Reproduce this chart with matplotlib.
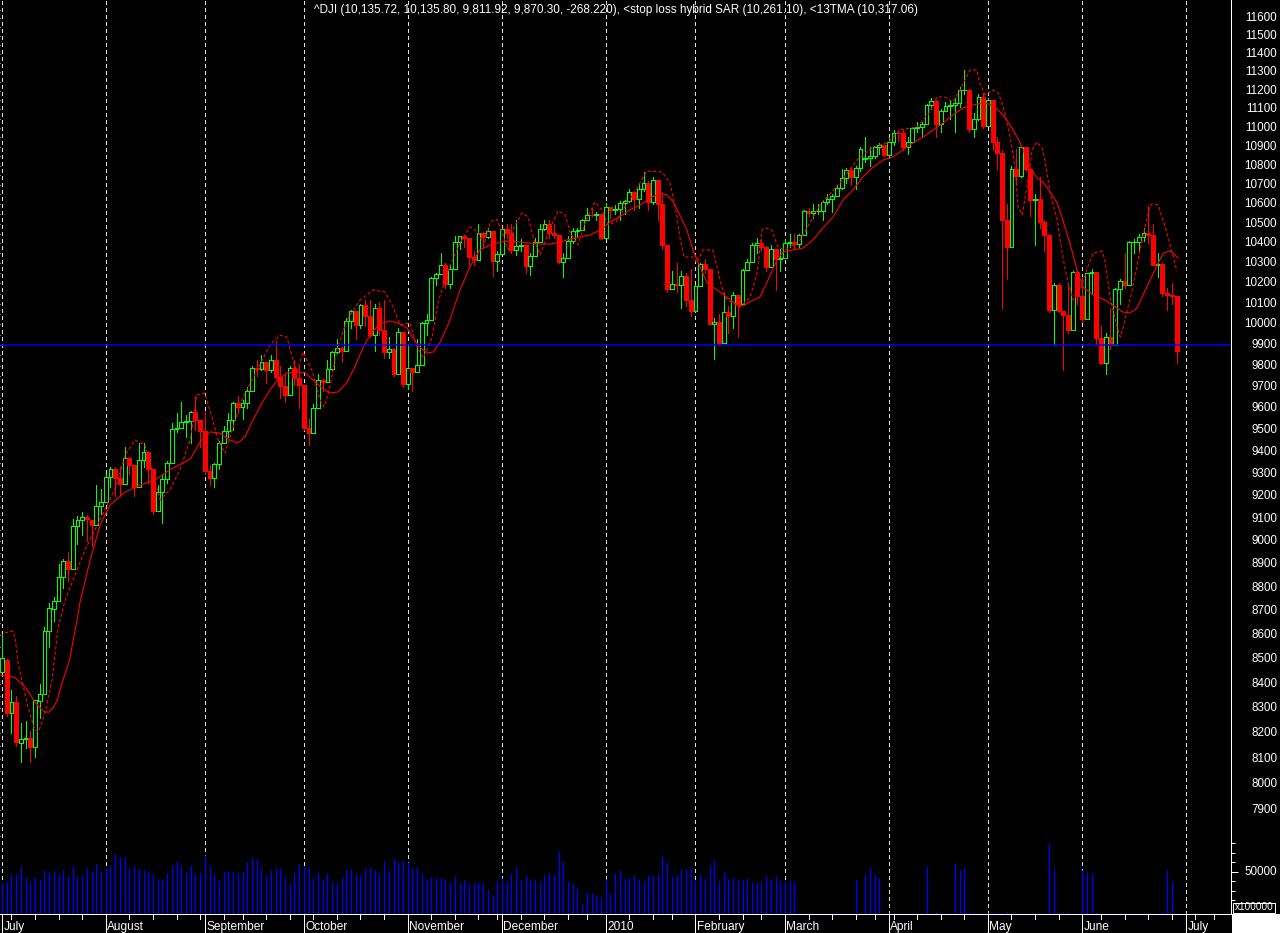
import numpy as np
import pandas as pd
import matplotlib
matplotlib.use("Agg")
import matplotlib.pyplot as plt
from matplotlib.patches import Rectangle
from matplotlib.lines import Line2D
from matplotlib.ticker import FixedLocator, NullFormatter
import matplotlib.transforms as mtrans

plt.rcParams['font.family'] = ['Liberation Sans', 'DejaVu Sans']

# ---------------- data ----------------
holidays = ['2009-07-03', '2009-09-07', '2009-11-26', '2009-12-25', '2010-01-01',
            '2010-01-18', '2010-02-15', '2010-04-02', '2010-05-31', '2010-07-05']
missing_days = ['2010-03-24']

opens = [
    # Jul 2009
    8447, 8497, 8280, 8324, 8163, 8178, 8183, 8146, 8331, 8359, 8616, 8711, 8743, 8848, 8915, 8881, 9069, 9093, 9108, 9096, 9070, 9154,
    # Aug
    9172, 9287, 9320, 9281, 9256, 9370, 9338, 9241, 9362, 9398, 9321, 9135, 9218, 9279, 9350, 9506, 9509, 9539, 9543, 9581, 9544,
    # Sep
    9496, 9311, 9281, 9345, 9441, 9497, 9547, 9627, 9605, 9627, 9683, 9792, 9784, 9820, 9779, 9830, 9749, 9707, 9665, 9789, 9742,
    # Oct
    9712, 9509, 9488, 9600, 9731, 9726, 9787, 9865, 9886, 9871, 10016, 10063, 9996, 10092, 10041, 9949, 10081, 9972, 9868, 9882, 9763, 9963,
    # Nov
    9713, 9789, 9772, 9802, 10006, 10023, 10227, 10247, 10291, 10197, 10270, 10407, 10437, 10426, 10332, 10318, 10451, 10434, 10464, 10310,
    # Dec
    10345, 10472, 10453, 10366, 10389, 10390, 10286, 10337, 10406, 10472, 10501, 10452, 10441, 10308, 10329, 10414, 10465, 10466, 10520, 10547, 10545, 10549,
    # Jan 2010
    10428, 10584, 10572, 10574, 10607, 10618, 10664, 10627, 10681, 10711, 10610, 10725, 10603, 10390, 10173, 10197, 10194, 10236, 10120,
    # Feb
    10067, 10186, 10297, 10271, 10002, 10012, 9908, 10059, 10038, 10144, 10099, 10269, 10309, 10393, 10402, 10383, 10282, 10374, 10321,
    # Mar
    10325, 10404, 10406, 10397, 10444, 10566, 10553, 10564, 10567, 10612, 10625, 10642, 10686, 10734, 10779, 10742, 10786, 10836, 10841, 10850, 10896, 10907,
    # Apr
    10857, 10927, 10974, 10970, 10898, 10927, 10997, 11006, 11019, 11123, 11145, 11019, 11092, 11117, 11125, 11134, 11204, 11205, 10992, 11045, 11167,
    # May
    11009, 11152, 10927, 10868, 10520, 10380, 10785, 10748, 10897, 10783, 10620, 10626, 10511, 10444, 10068, 10193, 10067, 10044, 9974, 10259,
    # Jun
    10137, 10024, 10250, 10255, 9932, 9816, 9940, 9899, 10173, 10211, 10191, 10405, 10409, 10434, 10451, 10442, 10294, 10298, 10153, 10144, 10136,
]
highs = [
    8606, 8500, 8373, 8350, 8240, 8250, 8210, 8335, 8400, 8633, 8735, 8760, 8900, 8925, 8955, 9100, 9110, 9130, 9115, 9096, 9250, 9230,
    9300, 9330, 9330, 9330, 9420, 9375, 9338, 9440, 9440, 9400, 9321, 9250, 9300, 9360, 9530, 9580, 9630, 9570, 9590, 9660, 9544,
    9590, 9340, 9350, 9450, 9520, 9580, 9630, 9660, 9640, 9700, 9800, 9830, 9850, 9820, 9850, 9920, 9800, 9760, 9800, 9830, 9800,
    9712, 9550, 9620, 9760, 9740, 9830, 9870, 9930, 9890, 10030, 10070, 10063, 10100, 10120, 10120, 10100, 10110, 10120, 9940, 9882, 9980, 9963,
    9900, 9790, 9930, 10010, 10050, 10230, 10250, 10350, 10300, 10290, 10440, 10440, 10440, 10426, 10360, 10500, 10460, 10480, 10464, 10360,
    10480, 10500, 10500, 10520, 10420, 10390, 10350, 10430, 10500, 10520, 10520, 10500, 10441, 10350, 10440, 10480, 10480, 10525, 10580, 10580, 10560, 10550,
    10605, 10585, 10595, 10615, 10620, 10680, 10664, 10710, 10765, 10720, 10740, 10725, 10650, 10390, 10260, 10300, 10260, 10250, 10270,
    10190, 10300, 10320, 10271, 10030, 10050, 10150, 10090, 10160, 10144, 10270, 10320, 10400, 10430, 10420, 10385, 10390, 10374, 10370,
    10420, 10450, 10450, 10450, 10570, 10580, 10600, 10600, 10620, 10650, 10650, 10700, 10780, 10790, 10790, 10800, 10900, 10950, 10900, 10900, 10920, 10910,
    10950, 10990, 10990, 10990, 10950, 11000, 11030, 11030, 11130, 11160, 11150, 11100, 11140, 11150, 11160, 11220, 11315, 11210, 11080, 11180, 11190,
    11160, 11152, 10950, 10880, 10600, 10800, 10890, 10900, 10900, 10783, 10650, 10740, 10520, 10444, 10200, 10200, 10067, 10200, 10260, 10260,
    10230, 10250, 10270, 10255, 9990, 9960, 10080, 10180, 10220, 10350, 10410, 10420, 10450, 10480, 10590, 10500, 10350, 10300, 10180, 10200, 10136,
]
lows = [
    8447, 8270, 8200, 8150, 8087, 8140, 8087, 8105, 8260, 8359, 8552, 8660, 8743, 8800, 8830, 8880, 8990, 9030, 9000, 8980, 9070, 9120,
    9172, 9240, 9200, 9200, 9256, 9300, 9200, 9240, 9330, 9260, 9120, 9135, 9080, 9260, 9350, 9490, 9509, 9470, 9440, 9500, 9420,
    9300, 9250, 9240, 9320, 9440, 9470, 9500, 9580, 9550, 9600, 9680, 9750, 9780, 9720, 9770, 9740, 9650, 9630, 9665, 9710, 9600,
    9500, 9430, 9488, 9600, 9680, 9726, 9780, 9860, 9820, 9871, 9980, 9930, 9980, 9990, 9940, 9870, 9950, 9840, 9840, 9750, 9763, 9700,
    9690, 9680, 9770, 9802, 9950, 10023, 10190, 10247, 10180, 10180, 10270, 10370, 10380, 10290, 10290, 10318, 10380, 10430, 10235, 10260,
    10345, 10430, 10350, 10340, 10360, 10250, 10240, 10337, 10406, 10470, 10430, 10430, 10300, 10230, 10329, 10400, 10440, 10466, 10520, 10540, 10520, 10425,
    10428, 10530, 10550, 10520, 10550, 10610, 10570, 10580, 10670, 10570, 10600, 10520, 10370, 10160, 10173, 10160, 10080, 10090, 10040,
    10067, 10186, 10250, 10000, 9835, 9900, 9908, 9960, 9980, 9940, 10099, 10269, 10309, 10350, 10360, 10260, 10282, 10170, 10260,
    10325, 10380, 10370, 10380, 10444, 10540, 10530, 10550, 10520, 10600, 10560, 10640, 10680, 10710, 10700, 10680, 10770, 10820, 10800, 10840, 10860, 10850,
    10850, 10910, 10930, 10880, 10860, 10920, 10980, 10950, 11019, 11100, 10950, 10980, 11090, 11050, 10980, 11110, 11180, 10980, 10950, 11040, 11000,
    11009, 10880, 10780, 10080, 10220, 10380, 10700, 10740, 10770, 10540, 10390, 10480, 10360, 10060, 9900, 10060, 9780, 9960, 9974, 10100,
    10010, 10024, 10150, 9900, 9810, 9760, 9880, 9899, 10100, 10180, 10191, 10350, 10360, 10410, 10400, 10290, 10230, 10140, 10070, 10100, 9812,
]
closes = [
    8504, 8280, 8325, 8164, 8178, 8183, 8147, 8332, 8359, 8616, 8712, 8744, 8848, 8916, 8881, 9069, 9093, 9109, 9097, 9071, 9154, 9172,
    9287, 9320, 9281, 9256, 9370, 9338, 9241, 9362, 9398, 9321, 9135, 9218, 9279, 9350, 9506, 9509, 9539, 9543, 9581, 9544, 9496,
    9311, 9281, 9345, 9441, 9497, 9547, 9627, 9605, 9627, 9683, 9792, 9784, 9820, 9779, 9830, 9749, 9707, 9665, 9789, 9742, 9712,
    9509, 9488, 9600, 9731, 9726, 9787, 9865, 9886, 9871, 10016, 10063, 9996, 10092, 10041, 9949, 10081, 9972, 9868, 9882, 9763, 9963, 9713,
    9789, 9772, 9802, 10006, 10023, 10227, 10247, 10291, 10197, 10270, 10407, 10437, 10426, 10332, 10318, 10451, 10434, 10464, 10310, 10345,
    10472, 10453, 10366, 10389, 10390, 10286, 10337, 10406, 10472, 10501, 10452, 10441, 10308, 10329, 10414, 10465, 10466, 10520, 10547, 10545, 10549, 10428,
    10584, 10572, 10574, 10607, 10618, 10664, 10627, 10681, 10711, 10610, 10725, 10603, 10390, 10173, 10197, 10194, 10236, 10120, 10067,
    10186, 10297, 10271, 10002, 10012, 9908, 10059, 10038, 10144, 10099, 10269, 10309, 10393, 10402, 10383, 10282, 10374, 10321, 10325,
    10404, 10406, 10397, 10444, 10566, 10553, 10564, 10567, 10612, 10625, 10642, 10686, 10734, 10779, 10742, 10786, 10889, 10841, 10850, 10896, 10907, 10857,
    10927, 10974, 10970, 10898, 10927, 10997, 11006, 11019, 11123, 11145, 11019, 11092, 11117, 11125, 11134, 11204, 11205, 10992, 11045, 11167, 11009,
    11152, 10927, 10868, 10520, 10380, 10785, 10748, 10897, 10783, 10620, 10626, 10511, 10444, 10068, 10193, 10067, 10044, 9974, 10259, 10137,
    10024, 10250, 10255, 9932, 9816, 9940, 9899, 10173, 10211, 10191, 10405, 10409, 10434, 10451, 10442, 10294, 10298, 10153, 10144, 10139, 9870,
]
# volume, in units of 100000 shares
volumes = [
    39800, 40500, 47900, 47900, 56300, 44400, 39800, 44400, 42600, 52100, 50300, 51100, 47900, 52100, 46100, 56300, 46100, 46800, 54200, 51100, 59100, 51100,
    54600, 56700, 69600, 66100, 66100, 53200, 56700, 54200, 52100, 49600, 47900, 42600, 42600, 48600, 57400, 61600, 56700, 50300, 57400, 48600, 48900,
    67900, 57400, 46800, 41600, 51100, 51100, 51100, 48600, 50000, 60500, 65400, 65100, 55600, 46100, 52100, 54200, 54200, 46100, 38100, 48600, 58400,
    56700, 55600, 44000, 49600, 42600, 48600, 39100, 38100, 44400, 52800, 52800, 48900, 45800, 54200, 55600, 52100, 48600, 61600, 52100, 63700, 60900, 63000,
    60900, 54200, 54900, 47900, 42300, 44400, 44400, 44000, 42300, 39500, 45800, 38800, 42600, 38800, 38800, 39100, 39100, 32100, 25800, 40500,
    43300, 40500, 49300, 56300, 41600, 46800, 42600, 42300, 39800, 46800, 49600, 47900, 72100, 61600, 40500, 38100, 32800, 16300, 28600, 27500, 25800, 24000,
    42300, 27500, 48600, 52100, 43300, 43300, 46800, 42300, 40500, 46800, 46800, 47900, 66800, 60200, 45800, 47900, 52100, 52800, 52800,
    41600, 47900, 44000, 57400, 62600, 40900, 49600, 42600, 44700, 42600, 41900, 43300, 39500, 39500, 39500, 45800, 43000, 45800, 40500,
    40500, 41200, 39800, 6800, 6900, 6600, 6900, 6700, 6800, 7000, 6800, 6700, 6900, 6800, 6700, 42600, 6800, 47900, 54900, 46800, 44000, 6800,
    6800, 6900, 6700, 6800, 6900, 6800, 6700, 6900, 56300, 6800, 8900, 6900, 6800, 6700, 59100, 52100, 54900, 7900, 8200, 6800, 6700,
    6800, 7500, 8200, 6900, 8900, 6800, 6900, 6800, 6700, 6900, 6800, 6700, 6800, 79500, 52800, 7200, 8200, 7500, 6800, 6700,
    52100, 49600, 48600, 7500, 6900, 7200, 6800, 6700, 6900, 6800, 6900, 7200, 6900, 6800, 6900, 7200, 6900, 7500, 52100, 40500, 6900,
]

# 13TMA: bar position -> value
tma_pos = [-0.4, 1.7, 2.8, 3.8, 4.9, 5.9, 7.0, 8.1, 9.1, 10.0, 10.8, 11.7, 12.3, 12.9, 13.8, 14.4, 15.1, 15.9, 16.5,
           18.7, 20.8, 22.9, 26.1, 29.3, 32.4, 35.6, 39.9, 42.0, 44.1, 46.2, 48.3, 50.0, 51.5, 53.2, 55.1, 56.8, 58.5,
           60.4, 62.5, 64.2, 65.9, 67.8, 69.5, 71.2, 73.1, 74.8, 76.5, 78.4, 80.1, 82.3, 83.9, 85.9, 87.1, 88.6, 90.1,
           91.4, 92.9, 94.8, 97.1, 99.2, 101.3, 103.5, 105.6, 107.7, 109.8, 111.9, 114.1, 116.2, 118.3, 120.4, 122.5,
           124.7, 126.8, 128.9, 131.0, 133.1, 135.3, 137.4, 139.5, 141.0, 142.3, 143.7, 145.2, 146.5, 148.0, 149.5,
           151.6, 153.7, 155.8, 157.1, 159.2, 160.7, 162.2, 164.3, 165.6, 167.7, 169.8, 171.9, 174.0, 176.2, 178.3,
           180.4, 182.5, 184.7, 186.8, 188.9, 191.0, 193.1, 195.3, 197.4, 199.5, 201.6, 203.7, 205.9, 208.0, 210.1,
           212.2, 213.7, 215.2, 216.5, 217.9, 219.4, 220.7, 222.2, 223.7, 224.9, 226.4, 227.9, 229.2, 231.3, 233.4,
           235.5, 237.6, 239.1, 240.6, 241.9, 243.4, 244.9, 246.2, 247.6, 248.7, 249.3]
tma_val = [8435, 8431, 8423, 8406, 8386, 8358, 8325, 8301, 8285, 8285, 8301, 8333, 8374, 8414, 8464, 8505, 8580, 8663, 8735,
           8920, 9072, 9161, 9218, 9250, 9272, 9318, 9367, 9445, 9491, 9486, 9454, 9440, 9468, 9546, 9625, 9687, 9734,
           9767, 9771, 9767, 9734, 9696, 9672, 9677, 9720, 9795, 9886, 9962, 10001, 10016, 10006, 9982, 9934, 9890, 9862,
           9866, 9914, 10011, 10168, 10282, 10367, 10392, 10407, 10412, 10407, 10402, 10397, 10397, 10407, 10422, 10433,
           10443, 10468, 10509, 10535, 10571, 10596, 10632, 10658, 10647, 10611, 10545, 10468, 10367, 10282, 10202,
           10168, 10133, 10094, 10089, 10118, 10133, 10207, 10317, 10357, 10367, 10377, 10417, 10478, 10535, 10622,
           10673, 10741, 10793, 10830, 10846, 10883, 10920, 10952, 10989, 11026, 11069, 11107, 11123, 11134, 11123,
           11069, 11015, 10952, 10883, 10793, 10736, 10715, 10663, 10606, 10519, 10402, 10267, 10182, 10143, 10123,
           10094, 10060, 10055, 10079, 10143, 10217, 10292, 10352, 10362, 10342, 10327]

# stop loss hybrid SAR
sar_pos = [0.6, 2.3, 2.8, 3.4, 4.2, 5.5, 7.0, 7.8, 9.1, 10.6, 11.9, 13.4, 15.5, 17.6, 19.7, 21.8, 24.0, 26.1, 28.2,
           30.3, 31.8, 33.5, 35.6, 37.7, 39.9, 41.3, 43.0, 44.5, 45.8, 47.3, 48.8, 51.1, 54.1, 56.8, 58.9, 60.4, 61.7,
           62.5, 63.8, 65.7, 67.4, 68.3, 69.5, 71.0, 73.1, 75.9, 78.7, 81.2, 82.9, 84.4, 86.5, 88.0, 89.3, 91.2, 92.4,
           94.6, 97.1, 99.2, 100.9, 102.2, 103.5, 104.9, 106.2, 107.3, 108.5, 110.2, 111.5, 112.8, 114.1, 115.8, 117.9,
           119.4, 120.4, 122.1, 123.8, 125.7, 127.2, 128.5, 130.2, 132.3, 134.4, 136.7, 139.9, 141.6, 142.3, 143.1,
           143.7, 144.6, 146.5, 147.3, 148.6, 150.7, 151.6, 152.6, 153.7, 156.5, 158.6, 160.1, 161.1, 162.2, 163.2,
           164.5, 166.0, 169.2, 173.4, 177.6, 181.3, 184.7, 187.8, 190.4, 194.0, 196.7, 198.2, 199.9, 201.6, 203.1,
           205.2, 206.7, 207.3, 208.4, 210.1, 211.2, 212.0, 212.6, 213.3, 214.1, 214.8, 215.4, 216.3, 217.5, 218.4,
           219.4, 220.5, 221.1, 222.2, 223.7, 224.9, 226.0, 227.1, 228.6, 230.1, 231.3, 233.2, 233.8, 234.9, 236.4,
           237.1, 237.7, 239.6, 241.7, 243.4, 244.0, 245.1, 246.6, 248.1, 249.1]
sar_val = [8609, 8617, 8588, 8484, 8415, 8305, 8212, 8208, 8281, 8415, 8634, 8748, 8855, 8963, 9050, 9139, 9236, 9385, 9454,
           9431, 9318, 9183, 9228, 9318, 9454, 9663, 9672, 9560, 9454, 9394, 9500, 9654, 9780, 9900, 9948, 9938, 9828,
           9771, 9866, 9780, 9640, 9607, 9700, 9876, 10020, 10118, 10168, 10158, 10084, 9997, 10006, 9890, 9838, 9938, 10104,
           10267, 10402, 10484, 10458, 10392, 10509, 10524, 10443, 10367, 10478, 10555, 10535, 10417, 10342, 10458, 10566,
           10545, 10458, 10392, 10519, 10611, 10571, 10494, 10509, 10596, 10673, 10772, 10767, 10710, 10637, 10535,
           10433, 10332, 10332, 10302, 10367, 10367, 10282, 10182, 10118, 10084, 10133, 10252, 10468, 10478, 10468,
           10382, 10367, 10417, 10596, 10710, 10830, 10899, 10920, 10989, 11005, 11085, 11166, 11166, 11139, 11204,
           11313, 11313, 11242, 11177, 11204, 11188, 11134, 11080, 11005, 10899, 10778, 10585, 10545, 10725, 10883,
           10925, 10893, 10830, 10658, 10519, 10332, 10202, 10118, 10168, 10277, 10352, 10362, 10317, 10133, 9987,
           9938, 9987, 10168, 10417, 10596, 10601, 10596, 10484, 10352, 10261]

ref_level = 9900
title = ("^DJI (10,135.72, 10,135.80, 9,811.92, 9,870.30, -268.220), "
         "<stop loss hybrid SAR (10,261.10), <13TMA (10,317.06)")
price_ticks = list(range(7800, 11700, 100))
volume_label = 50000

# ---------------- figure ----------------
W, H = 1280, 933
PX = 0.72  # one pixel in points at 100 dpi
fig = plt.figure(figsize=(W / 100, H / 100), dpi=100, facecolor='black')
ax = fig.add_axes([0, 19 / H, 1231 / W, 914 / H])
ax.set_facecolor('black')

opens_a = np.array(opens, float)
highs_a = np.array(highs, float)
lows_a = np.array(lows, float)
closes_a = np.array(closes, float)
n = len(closes_a)
pos = np.arange(n)

hol = pd.to_datetime(holidays + missing_days)
axis_dates = pd.bdate_range('2009-07-01', '2010-07-23')
axis_dates = axis_dates[~axis_dates.isin(hol)]

ax.set_xlim(-0.424, 260.55)
ax.set_yscale('log')
ax.set_ylim(7511.6, 11704)

GREEN = '#00FF00'
RED = '#FF0000'

# month separators
months = axis_dates.month
bounds = [i for i in range(len(axis_dates)) if i == 0 or months[i] != months[i - 1]]
bounds = [b for b in bounds if b < 260.5]
for b in bounds:
    ax.axvline(b, color='#DDDDDD', lw=PX, linestyle=(0, (4, 3)), zorder=1, antialiased=False)

# reference line
ax.axhline(ref_level, color='#0000FF', lw=PX * 1.5, zorder=6, antialiased=True)

# candles
up = closes_a >= opens_a
for i in range(n):
    col = GREEN if up[i] else RED
    ax.vlines(pos[i], lows_a[i], highs_a[i], color=col, lw=PX, zorder=3, antialiased=False)
    lo = min(opens_a[i], closes_a[i])
    hi = max(opens_a[i], closes_a[i])
    if up[i]:
        ax.add_patch(Rectangle((pos[i] - 0.40, lo), 0.80, max(hi - lo, 0.5),
                               facecolor='black', edgecolor=GREEN, lw=PX, zorder=4,
                               antialiased=False))
    else:
        ax.add_patch(Rectangle((pos[i] - 0.42, lo), 0.84, max(hi - lo, 0.5),
                               facecolor=RED, edgecolor=RED, lw=PX * 0.5, zorder=4,
                               antialiased=False))

# indicators
ax.plot(tma_pos, tma_val, color=RED, lw=PX * 1.1, zorder=5)
ax.plot(sar_pos, sar_val, color=RED, lw=PX * 1.1, linestyle=(0, (3, 2)), zorder=5)

# axes styling
for s in ['top', 'left']:
    ax.spines[s].set_visible(False)
ax.spines['right'].set_color('white')
ax.spines['right'].set_linewidth(PX)
ax.spines['bottom'].set_color('white')
ax.spines['bottom'].set_linewidth(PX)
ax.xaxis.set_major_locator(FixedLocator([]))
ax.xaxis.set_minor_locator(FixedLocator([]))
ax.yaxis.tick_right()
ax.yaxis.set_major_locator(FixedLocator(price_ticks))
ax.yaxis.set_minor_locator(FixedLocator([t + 50 for t in price_ticks]))
ax.yaxis.set_major_formatter(NullFormatter())
ax.yaxis.set_minor_formatter(NullFormatter())
ax.tick_params(axis='y', which='major', length=7 * PX, width=PX, color='white', right=True, left=False)
ax.tick_params(axis='y', which='minor', length=4 * PX, width=PX, color='white', right=True, left=False)

ytr = mtrans.blended_transform_factory(ax.transAxes, ax.transData)
xlab = 1277 / 1231
for t in price_ticks:
    if t >= 7900:
        ax.text(xlab, t, str(t), transform=ytr, ha='right', va='center',
                color='white', fontsize=8.4, clip_on=False)

# title
ax.text(0.5, 1 - 10 / 914, title, transform=ax.transAxes, ha='center', va='center',
        color='white', fontsize=8.5, zorder=10)

# bottom month labels and ticks
xtr = mtrans.blended_transform_factory(ax.transData, ax.transAxes)
for b in bounds:
    d = axis_dates[b]
    lab = str(d.year) if d.month == 1 else d.strftime('%B')
    ax.add_line(Line2D([b, b], [0, -19 / 914], transform=xtr, color='white', lw=PX,
                       clip_on=False, antialiased=False))
    ax.text(b + 0.3, -13 / 914, lab, transform=xtr, ha='left', va='center',
            color='white', fontsize=8.6, clip_on=False)
wd = axis_dates.weekday
weeks = [i for i in range(1, len(axis_dates)) if wd[i] < wd[i - 1] and i not in bounds and i < 260]
for w in weeks:
    ax.add_line(Line2D([w, w], [0, -5 / 914], transform=xtr, color='white', lw=PX,
                       clip_on=False, antialiased=False))

# volume panel
ax2 = ax.twinx()
ax2.set_ylim(5784, 5784 + 914 / 0.00095)
ax2.vlines(pos, 5784, volumes, color='#0000FF', lw=PX * 1.3, zorder=2, antialiased=True)
for s in ax2.spines.values():
    s.set_visible(False)
ax2.yaxis.set_major_locator(FixedLocator([volume_label]))
ax2.yaxis.set_minor_locator(FixedLocator([20000, 30000, 40000, 60000, 70000, 80000]))
ax2.yaxis.set_major_formatter(NullFormatter())
ax2.yaxis.set_minor_formatter(NullFormatter())
ax2.tick_params(axis='y', which='major', length=7 * PX, width=PX, color='white')
ax2.tick_params(axis='y', which='minor', length=4 * PX, width=PX, color='white')
ytr2 = mtrans.blended_transform_factory(ax2.transAxes, ax2.transData)
ax2.text(xlab, volume_label, str(volume_label), transform=ytr2, ha='right', va='center',
         color='white', fontsize=8.4, clip_on=False)

# bottom-right white corner and multiplier box
fig.patches.append(Rectangle((1231.5 / W, 0), (W - 1231.5) / W, 19 / H, transform=fig.transFigure,
                             facecolor='white', edgecolor='none', zorder=0))
fig.patches.append(Rectangle((1233 / W, 20 / H), 42 / W, 10.5 / H, transform=fig.transFigure,
                             facecolor='black', edgecolor='white', lw=PX, zorder=5))
fig.text(1254 / W, 25.5 / H, 'x100000', color='white', fontsize=7.2, ha='center', va='center', zorder=6)

fig.savefig('out.png', dpi=100, facecolor='black')
